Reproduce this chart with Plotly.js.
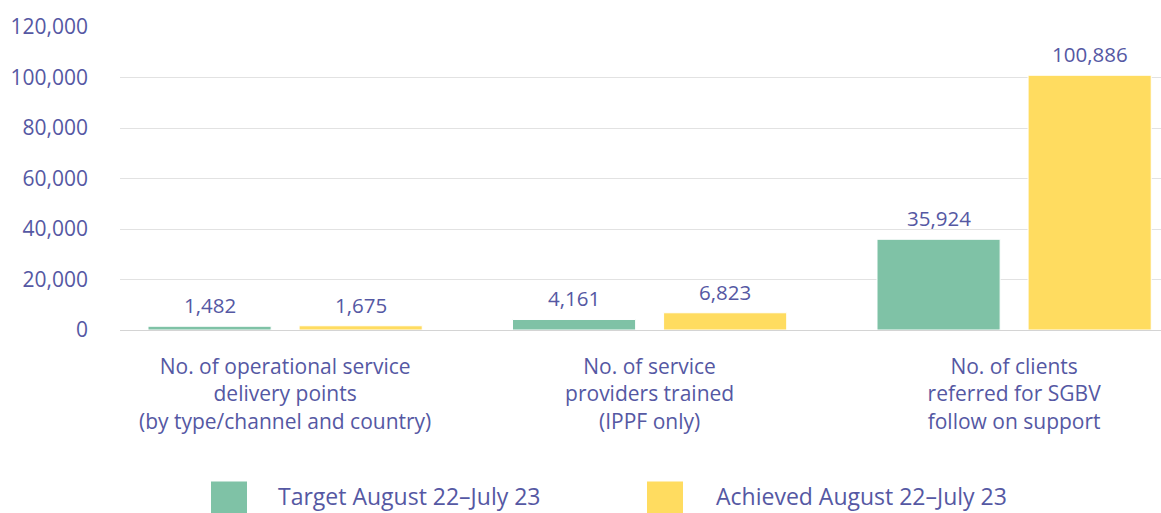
<!DOCTYPE html>
<html>
<head>
<meta charset="utf-8">
<script src="https://cdn.plot.ly/plotly-3.0.1.min.js"></script>
<style>html,body{margin:0;padding:0;background:#fff;}#chart{width:1161px;height:513px;}</style>
</head>
<body>
<div id="chart"></div>
<script>
var categories = [
  "No. of operational service<br>delivery points<br>(by type/channel and country)",
  "No. of service<br>providers trained<br>(IPPF only)",
  "No. of clients<br>referred for SGBV<br>follow on support"
];
var seriesNames = ["Target August 22\u2013July 23", "Achieved August 22\u2013July 23"];
var targetValues = [1482, 4161, 35924];
var achievedValues = [1675, 6823, 100886];
var yTickValues = [0, 20000, 40000, 60000, 80000, 100000, 120000];

var textColor = "#5558a3";
var colors = ["#7fc2a6", "#ffdc60"];
var fontFam = "'Open Sans', sans-serif";
var seriesValues = [targetValues, achievedValues];
var barShift = [-75.5, 75.5];

var traces = seriesValues.map(function (vals, i) {
  return {
    type: "bar",
    name: seriesNames[i],
    x: categories,
    y: vals,
    marker: {color: colors[i], line: {color: "#ffffff", width: 1}},
    hoverinfo: "skip"
  };
});

var valueLabels = [];
seriesValues.forEach(function (vals, i) {
  vals.forEach(function (v, j) {
    valueLabels.push({
      xref: "x", yref: "y", x: categories[j], y: v,
      xshift: barShift[i], yshift: 5,
      xanchor: "center", yanchor: "bottom",
      text: v.toLocaleString("en-US"), showarrow: false,
      font: {size: 20.5, color: textColor, family: fontFam}
    });
  });
});

var layout = {
  width: 1161, height: 513,
  margin: {l: 120, r: 0, t: 27, b: 183},
  paper_bgcolor: "#ffffff", plot_bgcolor: "#ffffff",
  font: {family: fontFam, color: textColor, size: 20},
  barmode: "group",
  bargap: 0.171,
  bargroupgap: 0.185,
  showlegend: false,
  xaxis: {
    type: "category",
    range: [-0.453, 2.403],
    showgrid: false, showline: false, zeroline: false,
    ticks: "",
    ticklabelstandoff: 22,
    tickfont: {size: 21, color: textColor, family: fontFam}
  },
  yaxis: {
    range: [0, 120000],
    tickvals: yTickValues,
    tickformat: ",",
    showgrid: true, gridcolor: "#e2e2e2", gridwidth: 1,
    zeroline: true, zerolinecolor: "#d4d4d4", zerolinewidth: 1,
    showline: false, ticks: "",
    ticklabelstandoff: 31,
    tickfont: {size: 21, color: textColor, family: fontFam}
  },
  shapes: [
    {type: "rect", xref: "paper", yref: "paper", x0: 91/1041, x1: 127/1041, y0: -0.7, y1: -0.50, fillcolor: colors[0], line: {width: 0}},
    {type: "rect", xref: "paper", yref: "paper", x0: 527/1041, x1: 563/1041, y0: -0.7, y1: -0.50, fillcolor: colors[1], line: {width: 0}}
  ],
  annotations: valueLabels.concat([
    {xref: "paper", yref: "paper", x: 156/1041, y: -0.548, xanchor: "left", yanchor: "middle", text: seriesNames[0], showarrow: false, font: {size: 23, color: textColor, family: fontFam}},
    {xref: "paper", yref: "paper", x: 594/1041, y: -0.548, xanchor: "left", yanchor: "middle", text: seriesNames[1], showarrow: false, font: {size: 23, color: textColor, family: fontFam}}
  ])
};

Plotly.newPlot("chart", traces, layout, {displayModeBar: false, staticPlot: true});
</script>
</body>
</html>
